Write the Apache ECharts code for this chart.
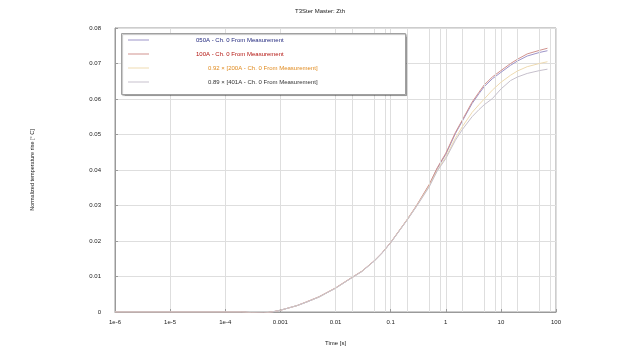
<!DOCTYPE html>
<html>
<head>
<meta charset="utf-8">
<script src="https://cdn.jsdelivr.net/npm/echarts@6/dist/echarts.min.js"></script>
<style>html,body{margin:0;padding:0;background:#fff;}#c{width:640px;height:360px;}</style>
</head>
<body>
<div id="c"></div>
<script>
var chartTitle = 'T3Ster Master: Zth';
var xName = 'Time [s]';
var yName = 'Normalized temperature rise [° C]';
var xTickLabels = ['1e-6', '1e-5', '1e-4', '0.001', '0.01', '0.1', '1', '10', '100'];
var yTickLabels = ['0', '0.01', '0.02', '0.03', '0.04', '0.05', '0.06', '0.07', '0.08'];
var minorGridValues = [2e-6,5e-6,8e-6,2e-5,5e-5,8e-5,2e-4,5e-4,8e-4,2e-3,5e-3,8e-3,0.02,0.05,0.08,0.2,0.5,0.8,2,5,8,20,50,80];
var seriesNames = ['050A - Ch. 0 From Measurement', '100A - Ch. 0 From Measurement', '0.92 × [200A - Ch. 0 From Measurement]', '0.89 × [401A - Ch. 0 From Measurement]'];
var times = [1e-6, 1e-5, 1e-4, 2e-4, 3e-4, 5e-4, 7e-4, 1e-3, 2e-3, 3e-3, 5e-3, 0.01, 0.02, 0.03, 0.05, 0.07, 0.1, 0.2, 0.3, 0.5, 0.7, 1, 1.5, 2, 3, 4, 5, 7, 10, 15, 20, 30, 50, 70];
var s050 = [0,0,0,0,-0.0002,-0.0003,0,0.0005,0.0018,0.0028,0.0042,0.0067,0.0097,0.0114,0.0143,0.0166,0.0195,0.0260,0.0300,0.0357,0.0404,0.0444,0.0503,0.0538,0.0587,0.0615,0.0635,0.0657,0.0675,0.0695,0.0707,0.0721,0.0731,0.0736];
var s100 = [0,0,0,0,-0.0002,-0.0003,0,0.0005,0.0018,0.0029,0.0043,0.0068,0.0098,0.0115,0.0144,0.0167,0.0196,0.0261,0.0302,0.0359,0.0406,0.0447,0.0506,0.0541,0.0591,0.0619,0.0640,0.0662,0.0680,0.0700,0.0712,0.0727,0.0737,0.0743];
var s200 = [0,0,0,0,-0.0002,-0.0003,0,0.0005,0.0018,0.0028,0.0042,0.0067,0.0097,0.0114,0.0143,0.0166,0.0195,0.0260,0.0300,0.0355,0.0399,0.0436,0.0490,0.0522,0.0562,0.0584,0.0600,0.0625,0.0647,0.0667,0.0679,0.0691,0.0700,0.0705];
var s401 = [0,0,0,0,-0.0002,-0.0003,0,0.0005,0.0018,0.0028,0.0042,0.0067,0.0097,0.0114,0.0143,0.0166,0.0195,0.0259,0.0299,0.0352,0.0397,0.0432,0.0484,0.0514,0.0550,0.0570,0.0584,0.0601,0.0628,0.0652,0.0662,0.0672,0.0680,0.0684];

var lineColors = ['#9d94c8', '#d0928e', '#eedab0', '#c6c0cc'];
var textColors = ['#22287e', '#b3140f', '#e08a1e', '#333333'];
var FONT = '"Liberation Sans", Arial, sans-serif';

function pairs(vals) { return times.map(function (t, i) { return [t, vals[i]]; }); }
var allVals = [s050, s100, s200, s401];

var series = allVals.map(function (vals, i) {
  var s = {
    name: seriesNames[i], type: 'line', data: pairs(vals),
    symbol: 'none', showSymbol: false, smooth: false,
    lineStyle: { color: lineColors[i], width: 1 }, itemStyle: { color: lineColors[i] },
    animation: false, z: 3 + i
  };
  if (i === 0) {
    s.markLine = {
      silent: true, symbol: 'none', animation: false, label: { show: false },
      lineStyle: { color: '#dedede', type: 'solid', width: 1 },
      data: minorGridValues.map(function (v) { return { xAxis: v }; })
    };
  }
  return s;
});

var chart = echarts.init(document.getElementById('c'));
chart.setOption({
  animation: false,
  backgroundColor: '#fff',
  title: { text: chartTitle, left: 'center', top: 3, textStyle: { fontSize: 6, fontWeight: 'normal', color: '#222', fontFamily: FONT } },
  grid: { left: 115, right: 84, top: 28, bottom: 48, show: true, borderColor: '#9a9a9a', borderWidth: 1 },
  xAxis: {
    type: 'log', logBase: 10, min: 1e-6, max: 100,
    name: xName, nameLocation: 'middle', nameGap: 28,
    nameTextStyle: { fontSize: 6, color: '#222', fontFamily: FONT },
    axisLine: { show: true, lineStyle: { color: '#9a9a9a' } },
    axisTick: { show: true, inside: true, length: 3, lineStyle: { color: '#9a9a9a' } },
    splitLine: { show: true, lineStyle: { color: '#dedede' } },
    axisLabel: { fontSize: 6, color: '#222', margin: 7, fontFamily: FONT,
      formatter: function (v) { var k = Math.round(Math.log10(v)) + 6; return xTickLabels[k] || ''; } }
  },
  yAxis: {
    type: 'value', min: 0, max: 0.08, interval: 0.01,
    name: yName, nameLocation: 'middle', nameGap: 80,
    nameTextStyle: { fontSize: 5.5, color: '#222', fontFamily: FONT },
    axisLine: { show: true, lineStyle: { color: '#9a9a9a' } },
    axisTick: { show: true, inside: true, length: 3, lineStyle: { color: '#9a9a9a' } },
    splitLine: { show: true, lineStyle: { color: '#dedede' } },
    axisLabel: { fontSize: 6, color: '#222', margin: 14, fontFamily: FONT, padding: [0, 0, 5, 0],
      formatter: function (v) { return yTickLabels[Math.round(v * 100)]; } }
  },
  graphic: [{
    type: 'rect', left: 121, top: 33, z: 10, silent: true,
    shape: { width: 284, height: 61 },
    style: { fill: '#fff', stroke: '#a0a0a0', lineWidth: 1, shadowColor: 'rgba(0,0,0,0.25)', shadowOffsetX: 1, shadowOffsetY: 1, shadowBlur: 1 }
  }],
  legend: {
    orient: 'vertical', left: 123, top: 32, z: 12, itemWidth: 21, itemHeight: 8, itemGap: 8,
    selectedMode: false, icon: 'path://M0,4 L21,4 L21,5 L0,5 Z',
    data: seriesNames.map(function (n, i) { return { name: n, itemStyle: { color: lineColors[i] }, textStyle: { color: textColors[i] } }; }),
    formatter: function (name) { var i = seriesNames.indexOf(name); return (i < 2 ? '{a|' : '{b|') + name + '}'; },
    textStyle: { fontSize: 6, fontFamily: FONT,
      rich: { a: { padding: [0, 0, 0, 42], fontSize: 6, fontFamily: FONT }, b: { padding: [0, 0, 0, 54], fontSize: 6, fontFamily: FONT } } }
  },
  series: series
});
</script>
</body>
</html>
